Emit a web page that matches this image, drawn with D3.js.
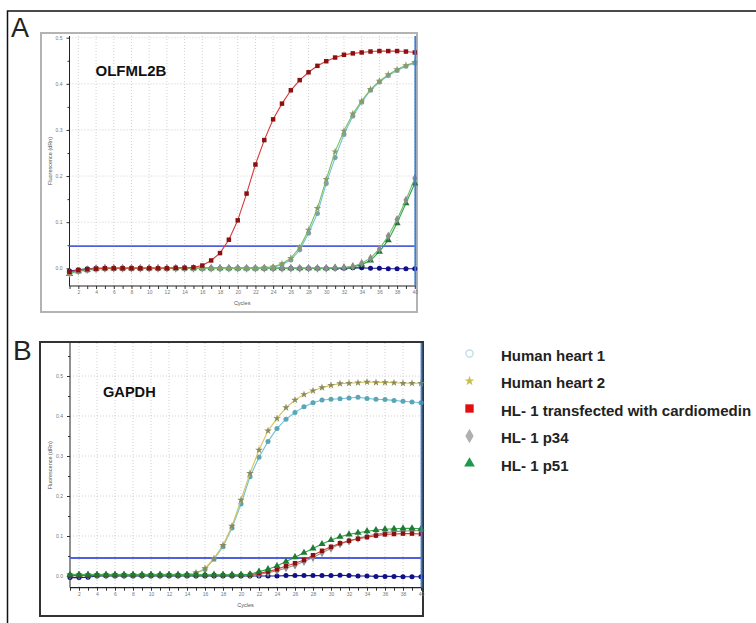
<!DOCTYPE html>
<html><head><meta charset="utf-8">
<script src="https://cdn.jsdelivr.net/npm/d3@7"></script>
<style>body{margin:0;background:#fff}svg{display:block}text{font-family:"Liberation Sans",Arial,sans-serif}</style>
</head><body>
<svg id="c" width="756" height="623"></svg>
<script>
const cycles = [1,2,3,4,5,6,7,8,9,10,11,12,13,14,15,16,17,18,19,20,21,22,23,24,25,26,27,28,29,30,31,32,33,34,35,36,37,38,39,40];
const seriesNames = ["Human heart 1","Human heart 2","HL- 1 transfected with cardiomedin","HL- 1 p34","HL- 1 p51"];
const yTicks = [0,0.1,0.2,0.3,0.4,0.5];

// Panel A: OLFML2B
const olfNTC = [-0.006,-0.003,-0.001,0,0,0,0,0,0,0,0,0,0,0,0,0,0,0,0,0,0,0,0,0,0,0,0,0,0,0,0,0,0.001,0.001,0,0,-0.001,-0.001,-0.001,-0.001];
const olfHH1 = [-0.012,-0.007,-0.004,-0.002,-0.001,0,0,0,0,0,0,0,0,0,0,0,0,0,0,0,0,0,0.001,0.002,0.008,0.018,0.040,0.076,0.119,0.184,0.240,0.290,0.330,0.360,0.386,0.404,0.418,0.429,0.438,0.445];
const olfHH2 = [-0.010,-0.006,-0.003,-0.001,0,0,0,0,0,0,0,0,0,0,0,0,0,0,0,0,0,0,0.001,0.003,0.010,0.022,0.045,0.083,0.130,0.193,0.253,0.298,0.335,0.363,0.388,0.406,0.420,0.431,0.440,0.447];
const olfTrans = [-0.008,-0.004,-0.002,-0.001,0,0,0,0,0,0,0,0,0.001,0.001,0.002,0.006,0.017,0.033,0.062,0.104,0.162,0.225,0.278,0.323,0.357,0.386,0.408,0.425,0.439,0.449,0.457,0.463,0.466,0.468,0.470,0.471,0.471,0.471,0.470,0.468];
const olfP34 = [-0.011,-0.006,-0.003,-0.001,0,0,0,0,0,0,0,0,0,0,0,0,0,0,0,0,0,0,0,0,0,0,0,0,0,0,0.001,0.002,0.004,0.011,0.022,0.042,0.070,0.106,0.148,0.195];
const olfP51 = [-0.012,-0.006,-0.003,-0.001,0,0,0,0,0,0,0,0,0,0,0,0,0,0,0,0,0,0,0,0,0,0,0,0,0,0,0.001,0.001,0.003,0.008,0.017,0.036,0.061,0.098,0.141,0.184];
const olfThreshold = 0.048;

// Panel B: GAPDH
const gapNTC = [-0.004,-0.004,-0.003,0,0,0,0,0,0,0,0,0,0,0,0,0,0,0,0,0,0,0,0,0,0.001,0.001,0.001,0.001,0.001,0.001,0.002,0.001,0,0,-0.001,-0.001,-0.001,-0.002,-0.002,-0.002];
const gapHH1 = [0.002,0.003,0.002,0.002,0.002,0.002,0.002,0.002,0.002,0.002,0.002,0.002,0.002,0.003,0.007,0.017,0.042,0.073,0.120,0.180,0.248,0.297,0.336,0.369,0.392,0.409,0.423,0.433,0.440,0.442,0.443,0.445,0.447,0.444,0.442,0.441,0.439,0.437,0.435,0.433];
const gapHH2 = [0.003,0.003,0.003,0.003,0.003,0.003,0.003,0.003,0.003,0.003,0.003,0.003,0.003,0.003,0.008,0.019,0.044,0.077,0.125,0.190,0.257,0.315,0.363,0.394,0.421,0.440,0.454,0.463,0.471,0.477,0.481,0.482,0.483,0.485,0.484,0.484,0.483,0.482,0.482,0.482];
const gapTrans = [0.001,0.001,0.001,0.002,0.002,0.002,0.002,0.002,0.002,0.002,0.002,0.002,0.002,0.002,0.002,0.002,0.002,0.002,0.002,0.002,0.003,0.007,0.011,0.017,0.025,0.032,0.040,0.052,0.063,0.073,0.082,0.088,0.093,0.097,0.101,0.104,0.105,0.106,0.106,0.105];
const gapP34 = [0.002,0.002,0.002,0.002,0.002,0.002,0.002,0.002,0.002,0.002,0.002,0.002,0.002,0.002,0.002,0.002,0.002,0.002,0.002,0.002,0.002,0.004,0.008,0.013,0.020,0.027,0.036,0.046,0.058,0.069,0.080,0.087,0.094,0.100,0.104,0.108,0.111,0.112,0.113,0.113];
const gapP51 = [0.003,0.003,0.003,0.003,0.003,0.003,0.003,0.003,0.003,0.003,0.003,0.003,0.003,0.003,0.003,0.003,0.003,0.003,0.003,0.003,0.004,0.011,0.017,0.025,0.036,0.047,0.058,0.069,0.080,0.090,0.098,0.104,0.108,0.112,0.115,0.117,0.118,0.119,0.119,0.118];
const gapThreshold = 0.045;

const svg = d3.select("#c");

// outer figure border
svg.append("path").attr("d","M7.5,630V11H760").attr("fill","none").attr("stroke","#111").attr("stroke-width",1.5);

const symCircle = d3.symbol().type(d3.symbolCircle).size(20);
const symSquare = d3.symbol().type(d3.symbolSquare).size(20);
const symDiamond = d3.symbol().type(d3.symbolDiamond).size(22);
const symTriangle = d3.symbol().type(d3.symbolTriangle).size(22);
const symStar = d3.symbol().type(d3.symbolStar).size(18);

function panel(cfg){
  const g = svg.append("g");
  g.append("rect").attr("x",cfg.frame[0]).attr("y",cfg.frame[1]).attr("width",cfg.frame[2]).attr("height",cfg.frame[3])
    .attr("fill","#fff").attr("stroke",cfg.frameColor).attr("stroke-width",2);
  const x = d3.scaleLinear().domain([1,40]).range(cfg.xr);
  const y = d3.scaleLinear().domain([0,0.5]).range(cfg.yr);
  const bottom = cfg.axisY, top = cfg.axisTop;
  // grid
  const grid = g.append("g").attr("stroke","#c4c4c4").attr("stroke-width",0.8).attr("stroke-dasharray","1,2");
  cycles.filter(c=>c%2===0).forEach(c=>grid.append("line").attr("x1",x(c)).attr("x2",x(c)).attr("y1",top).attr("y2",bottom));
  yTicks.forEach(v=>grid.append("line").attr("x1",x(1)).attr("x2",x(40)).attr("y1",y(v)).attr("y2",y(v)));
  // axes
  const yAxis = d3.axisLeft(y).tickValues(yTicks).tickSize(3).tickFormat(d3.format(".1f"));
  const ya = g.append("g").attr("transform",`translate(${x(1)},0)`).call(yAxis);
  ya.select(".domain").remove();
  ya.selectAll("text").attr("font-size",5).attr("fill","#777").attr("dx",-1);
  ya.selectAll("line").attr("stroke","#333");
  const minor = d3.axisLeft(y).tickValues(cfg.minor).tickSize(2).tickFormat("");
  const ym = g.append("g").attr("transform",`translate(${x(1)},0)`).call(minor);
  ym.select(".domain").remove(); ym.selectAll("line").attr("stroke","#333");
  g.append("line").attr("x1",x(1)).attr("x2",x(1)).attr("y1",top).attr("y2",bottom).attr("stroke","#222").attr("stroke-width",1);
  const xAxis = d3.axisBottom(x).tickValues(cycles).tickSize(3).tickFormat(d=>d%2===0?d:"");
  const xa = g.append("g").attr("transform",`translate(0,${bottom})`).call(xAxis);
  xa.select(".domain").remove();
  xa.selectAll("text").attr("font-size",5).attr("fill","#777").attr("dy",2);
  xa.selectAll("line").attr("stroke","#333");
  g.append("line").attr("x1",x(1)).attr("x2",x(40)+1).attr("y1",bottom).attr("y2",bottom).attr("stroke","#222").attr("stroke-width",1.2);
  g.append("text").attr("x",(x(1)+x(40))/2).attr("y",bottom+19).attr("text-anchor","middle").attr("font-size",5.5).attr("fill","#555").text("Cycles");
  g.append("text").attr("transform",`translate(${x(1)-18},${(top+bottom)/2}) rotate(-90)`).attr("text-anchor","middle")
    .attr("font-size",5.5).attr("fill","#555").text("Fluorescence (dRn)");
  // threshold
  g.append("line").attr("x1",x(1)).attr("x2",x(40)).attr("y1",y(cfg.threshold)).attr("y2",y(cfg.threshold))
    .attr("stroke","#4f5fe0").attr("stroke-width",1.8);
  // series
  const line = d3.line().x((d,i)=>x(cycles[i])).y(d=>y(d));
  cfg.series.forEach(s=>{
    const sg = g.append("g");
    sg.append("path").datum(s.values).attr("d",line).attr("fill","none").attr("stroke",s.line).attr("stroke-width",1.1);
    sg.selectAll("path.m").data(s.values).join("path").attr("class","m")
      .attr("transform",(d,i)=>`translate(${x(cycles[i])},${y(d)})`).attr("d",s.sym).attr("fill",s.marker);
  });
  // right border in blue
  g.append("line").attr("x1",x(40)+0.5).attr("x2",x(40)+0.5).attr("y1",top).attr("y2",bottom).attr("stroke","#3d7fd0").attr("stroke-width",1.8);
  // panel title
  g.append("text").attr("x",cfg.title[1]).attr("y",cfg.title[2]).attr("font-size",cfg.title[3]).attr("font-weight","bold").attr("fill","#111").text(cfg.title[0]);
  // panel letter
  svg.append("text").attr("x",cfg.letter[1]).attr("y",cfg.letter[2]).attr("font-size",cfg.letter[3]).attr("fill","#222").text(cfg.letter[0]);
}

panel({
  frame:[41,33,376,279], frameColor:"#b3b3b3",
  xr:[69.5,414.8], yr:[268.3,37.7], axisY:286, axisTop:36,
  minor:[0.05,0.15,0.25,0.35,0.45], threshold:olfThreshold,
  title:["OLFML2B",95.5,75.5,15], letter:["A",11,36.5,27],
  series:[
    {values:olfNTC, line:"#1a1a90", marker:"#10108a", sym:symCircle},
    {values:olfP51, line:"#2aa845", marker:"#1f7a34", sym:symTriangle},
    {values:olfP34, line:"#74b86a", marker:"#8c8c8c", sym:symDiamond},
    {values:olfHH1, line:"#6cc4d8", marker:"#7aa0a8", sym:symCircle},
    {values:olfHH2, line:"#7cbc5a", marker:"#8a9a6a", sym:symStar},
    {values:olfTrans, line:"#d83a3a", marker:"#8b1010", sym:symSquare}
  ]
});

panel({
  frame:[40,342,383,274], frameColor:"#333",
  xr:[70,421], yr:[576,376], axisY:587.7, axisTop:343,
  minor:[0.05,0.15,0.25,0.35,0.45,0.55], threshold:gapThreshold,
  title:["GAPDH",103,397.3,14.6], letter:["B",13,360,28],
  series:[
    {values:gapNTC, line:"#1a1a90", marker:"#10108a", sym:symCircle},
    {values:gapHH1, line:"#6cc4d8", marker:"#5aa6b6", sym:symCircle},
    {values:gapHH2, line:"#d6c35a", marker:"#8a8a5a", sym:symStar},
    {values:gapP34, line:"#a08c84", marker:"#8c8c8c", sym:symDiamond},
    {values:gapTrans, line:"#d83a3a", marker:"#8b1010", sym:symSquare},
    {values:gapP51, line:"#2aa845", marker:"#1f7a34", sym:symTriangle}
  ]
});

// legend
const legSyms = [
  d3.symbol().type(d3.symbolCircle).size(40),
  d3.symbol().type(d3.symbolStar).size(30),
  d3.symbol().type(d3.symbolSquare).size(70),
  d3.symbol().type(d3.symbolDiamond).size(60),
  d3.symbol().type(d3.symbolTriangle).size(50)
];
const legFill = ["#fff","#c8c040","#e01010","#b0b0b0","#1a9a4a"];
const legStroke = ["#b8d8e4","none","none","none","none"];
const legY = d3.scalePoint().domain(seriesNames).range([355,465]);
const leg = svg.append("g");
seriesNames.forEach((n,i)=>{
  leg.append("path").attr("d",legSyms[i]).attr("transform",`translate(469.5,${legY(n)-1.5})`)
    .attr("fill",legFill[i]).attr("stroke",legStroke[i]).attr("stroke-width",1.2);
  leg.append("text").attr("x",501).attr("y",legY(n)+5.5).attr("font-size",15).attr("font-weight","bold").attr("fill","#222").text(n);
});
</script>
</body></html>
